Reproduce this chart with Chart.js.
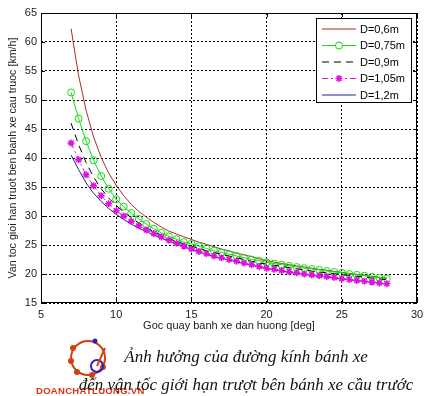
<!DOCTYPE html>
<html>
<head>
<meta charset="utf-8">
<script src="https://cdn.jsdelivr.net/npm/chart.js@4.4.1/dist/chart.umd.min.js"></script>
<style>
  html, body { margin: 0; padding: 0; background: #fff; }
  #wrap { position: relative; width: 429px; height: 396px; overflow: hidden; background: #fff; }
  #chart { position: absolute; left: 0; top: 0; }
  .cap { position: absolute; left: 0; width: 492px; text-align: center; font-family: "Liberation Serif", "DejaVu Serif", serif;
         font-style: italic; font-size: 17px; line-height: 20px; color: #111; white-space: nowrap; }
  #logo { position: absolute; left: 60px; top: 336px; }
  #logoText { position: absolute; left: 36px; top: 385px; font: bold 9.5px Arial, "Liberation Sans", sans-serif; color: #e03010; letter-spacing: 0.3px; }
</style>
</head>
<body>
<div id="wrap">
  <canvas id="chart" width="429" height="340"></canvas>
  <svg id="logo" width="60" height="56" viewBox="0 0 60 56">
    <circle cx="28" cy="22" r="17" fill="none" stroke="#d04010" stroke-width="2"/>
    <circle cx="13" cy="12" r="3" fill="#d04010"/>
    <circle cx="11" cy="25" r="3" fill="#d04010"/>
    <circle cx="17" cy="36" r="3" fill="#d04010"/>
    <circle cx="32" cy="39" r="3" fill="#d04010"/>
    <circle cx="43" cy="31" r="3" fill="#d04010"/>
    <circle cx="35" cy="5" r="2.5" fill="#3020c0"/>
    <circle cx="37" cy="30" r="6" fill="none" stroke="#3020c0" stroke-width="2"/>
    <line x1="37" y1="30" x2="45" y2="12" stroke="#d04010" stroke-width="2"/>
  </svg>
  <div id="logoText">DOANCHATLUONG.VN</div>
  <div class="cap" style="top:347px">Ảnh hưởng của đường kính bánh xe</div>
  <div class="cap" style="top:375px">đến vận tốc giới hạn trượt bên bánh xe cầu trước</div>
</div>
<script>
// ========================================
// Data
// ========================================
const angles = [
  7, 7.5, 8, 8.5, 9, 9.5, 10, 10.5, 11, 11.5,
  12, 12.5, 13, 13.5, 14, 14.5, 15, 15.5, 16, 16.5,
  17, 17.5, 18, 18.5, 19, 19.5, 20, 20.5, 21, 21.5,
  22, 22.5, 23, 23.5, 24, 24.5, 25, 25.5, 26, 26.5,
  27, 27.5, 28
];

const vD060 = [
  62.3, 54.2, 48.2, 43.6, 40.1, 37.4, 35.3, 33.5, 32.0, 30.8,
  29.8, 28.9, 28.1, 27.4, 26.9, 26.4, 25.95, 25.5, 25.1, 24.7,
  24.3, 24.0, 23.6, 23.3, 23.0, 22.6, 22.3, 22.05, 21.8, 21.6,
  21.4, 21.2, 21.0, 20.8, 20.65, 20.45, 20.3, 20.1, 19.95, 19.8,
  19.6, 19.45, 19.3
];

const vD075 = [
  51.3, 46.8, 42.9, 39.6, 36.9, 34.7, 32.9, 31.6, 30.5, 29.5,
  28.6, 27.8, 27.1, 26.5, 26.0, 25.5, 25.2, 24.8, 24.4, 24.0,
  23.7, 23.4, 23.1, 22.8, 22.5, 22.3, 22.0, 21.8, 21.6, 21.4,
  21.2, 21.0, 20.85, 20.7, 20.5, 20.35, 20.2, 20.0, 19.85, 19.7,
  19.5, 19.35, 19.2
];

const vD090 = [
  46.0, 42.3, 39.2, 36.7, 34.7, 33.1, 31.8, 30.7, 29.7, 28.8,
  28.0, 27.3, 26.7, 26.1, 25.6, 25.2, 24.8, 24.4, 24.0, 23.7,
  23.4, 23.1, 22.8, 22.5, 22.2, 21.9, 21.7, 21.5, 21.3, 21.1,
  20.9, 20.7, 20.5, 20.35, 20.2, 20.05, 19.9, 19.75, 19.6, 19.45,
  19.3, 19.15, 19.0
];

const vD105 = [
  42.6, 39.7, 37.1, 35.2, 33.5, 32.1, 30.9, 30.0, 29.1, 28.3,
  27.6, 27.0, 26.4, 25.8, 25.3, 24.8, 24.3, 23.9, 23.5, 23.1,
  22.8, 22.5, 22.2, 21.9, 21.6, 21.3, 21.0, 20.8, 20.6, 20.4,
  20.2, 20.0, 19.85, 19.7, 19.55, 19.4, 19.2, 19.05, 18.9, 18.75,
  18.6, 18.45, 18.3
];

const vD120 = [
  40.5, 38.0, 35.7, 33.9, 32.5, 31.3, 30.3, 29.4, 28.6, 27.9,
  27.3, 26.7, 26.2, 25.7, 25.2, 24.7, 24.2, 23.8, 23.4, 23.0,
  22.7, 22.4, 22.1, 21.8, 21.5, 21.2, 20.9, 20.7, 20.5, 20.3,
  20.1, 19.9, 19.75, 19.6, 19.45, 19.3, 19.15, 19.0, 18.85, 18.7,
  18.55, 18.4, 18.25
];

const seriesLabels = ['D=0,6m', 'D=0,75m', 'D=0,9m', 'D=1,05m', 'D=1,2m'];
const xTicks = [5, 10, 15, 20, 25, 30];
const yTicks = [15, 20, 25, 30, 35, 40, 45, 50, 55, 60, 65];

const xTitle = 'Goc quay banh xe dan huong [deg]';
const yTitle = 'Van toc gioi han truot ben banh xe cau truoc [km/h]';

// ========================================
// Helpers
// ========================================
const pts = arr => angles.map((a, i) => ({ x: a, y: arr[i] }));
const AXIS_FONT = 'Arial, "Liberation Sans", sans-serif';

const RED = '#b02828';
const GREEN = '#10dd10';
const BLACK = '#000000';
const MAGENTA = '#e010e0';
const BLUE = '#22228a';

// Khung, vạch chia trong và chú thích kiểu MATLAB
const matlabFrame = {
  id: 'matlabFrame',
  afterDraw(chart) {
    const { ctx, chartArea: a, scales } = chart;
    ctx.save();
    ctx.strokeStyle = '#000';
    ctx.lineWidth = 1;
    ctx.setLineDash([]);
    ctx.strokeRect(Math.round(a.left) + 0.5, Math.round(a.top) + 0.5,
      Math.round(a.right - a.left) - 1, Math.round(a.bottom - a.top) - 1);

    // inner ticks
    ctx.beginPath();
    xTicks.forEach(v => {
      const px = Math.round(scales.x.getPixelForValue(v)) + 0.5;
      ctx.moveTo(px, a.bottom); ctx.lineTo(px, a.bottom - 4);
      ctx.moveTo(px, a.top); ctx.lineTo(px, a.top + 4);
    });
    yTicks.forEach(v => {
      const py = Math.round(scales.y.getPixelForValue(v)) + 0.5;
      ctx.moveTo(a.left, py); ctx.lineTo(a.left + 4, py);
      ctx.moveTo(a.right, py); ctx.lineTo(a.right - 4, py);
    });
    ctx.stroke();

    // legend box
    const bx = 316, by = 18, bw = 96, bh = 85;
    ctx.fillStyle = '#fff';
    ctx.fillRect(bx, by, bw, bh);
    ctx.strokeRect(bx + 0.5, by + 0.5, bw - 1, bh - 1);
    const rowY = [29, 45.5, 62, 78.5, 95];
    ctx.font = '11px ' + AXIS_FONT;
    ctx.textBaseline = 'middle';
    chart.data.datasets.forEach((ds, i) => {
      const y = rowY[i];
      ctx.beginPath();
      ctx.strokeStyle = ds.borderColor;
      ctx.lineWidth = 1;
      ctx.setLineDash(ds.borderDash || []);
      ctx.moveTo(322, y); ctx.lineTo(356, y);
      ctx.stroke();
      ctx.setLineDash([]);
      if (ds.pointRadius > 0) {
        ctx.fillStyle = ds.pointStyle === 'circle' ? '#fff' : ds.borderColor;
        ctx.strokeStyle = ds.borderColor;
        ctx.lineWidth = ds.pointBorderWidth || 1;
        Chart.helpers.drawPoint(ctx, {
          pointStyle: ds.pointStyle, radius: ds.pointRadius, borderWidth: ds.pointBorderWidth || 1
        }, 339, y);
      }
      ctx.fillStyle = '#000';
      ctx.fillText(ds.label, 360, y + 0.5);
    });
    ctx.restore();
  }
};

// ========================================
// Chart
// ========================================
const ctx = document.getElementById('chart');

new Chart(ctx, {
  type: 'line',
  data: {
    datasets: [
      {
        label: seriesLabels[0], data: pts(vD060), order: 5,
        borderColor: RED, borderWidth: 1, pointRadius: 0
      },
      {
        label: seriesLabels[1], data: pts(vD075), order: 4,
        borderColor: GREEN, borderWidth: 1,
        pointStyle: 'circle', pointRadius: 3.5, pointBorderWidth: 1,
        pointBorderColor: GREEN, pointBackgroundColor: 'rgba(0,0,0,0)'
      },
      {
        label: seriesLabels[2], data: pts(vD090), order: 3,
        borderColor: BLACK, borderWidth: 1, borderDash: [7, 5], pointRadius: 0
      },
      {
        label: seriesLabels[3], data: pts(vD105), order: 1,
        borderColor: MAGENTA, borderWidth: 1, borderDash: [6, 3, 2, 3],
        pointStyle: 'star', pointRadius: 3.5, pointBorderWidth: 1.5,
        pointBorderColor: MAGENTA, pointBackgroundColor: MAGENTA
      },
      {
        label: seriesLabels[4], data: pts(vD120), order: 2,
        borderColor: BLUE, borderWidth: 1, pointRadius: 0
      }
    ]
  },
  options: {
    responsive: false,
    animation: false,
    layout: { padding: { top: 13, right: 12, left: 0, bottom: 0 } },
    plugins: {
      legend: { display: false },
      tooltip: { enabled: false }
    },
    scales: {
      x: {
        type: 'linear', min: 5, max: 30,
        afterBuildTicks: s => { s.ticks = xTicks.map(v => ({ value: v })); },
        afterFit: s => { s.height = 37; },
        grid: { color: '#000', lineWidth: 1, drawTicks: false, borderDash: [2, 2] },
        border: { display: false, dash: [2, 2] },
        ticks: { color: '#222', padding: 5, font: { size: 11, family: AXIS_FONT }, maxRotation: 0 },
        title: { display: true, text: xTitle, color: '#222', font: { size: 11, family: AXIS_FONT }, padding: { top: 0, bottom: 7 } }
      },
      y: {
        type: 'linear', min: 15, max: 65,
        afterBuildTicks: s => { s.ticks = yTicks.map(v => ({ value: v })); },
        afterFit: s => { s.width = 41; },
        grid: { color: '#000', lineWidth: 1, drawTicks: false, borderDash: [2, 2] },
        border: { display: false, dash: [2, 2] },
        ticks: { color: '#222', padding: 4, font: { size: 11, family: AXIS_FONT } },
        title: { display: true, text: yTitle, color: '#222', font: { size: 10.7, family: AXIS_FONT }, padding: { top: 6.5, bottom: 0 } }
      }
    }
  },
  plugins: [matlabFrame]
});
</script>
</body>
</html>
